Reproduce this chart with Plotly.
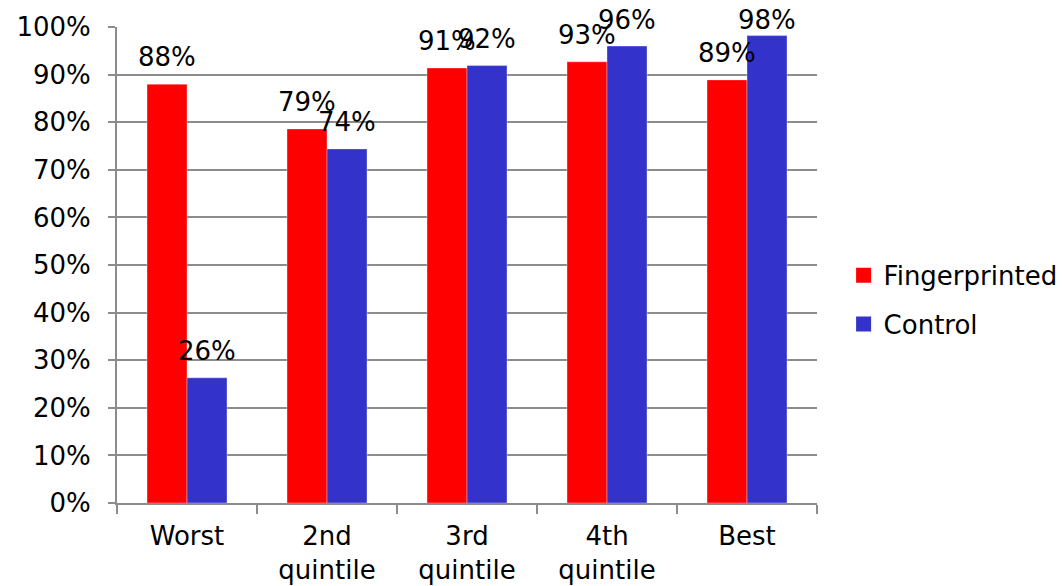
import plotly.graph_objects as go

# Quintile groups and share of each group (fraction of 1)
categories = ["Worst", "2nd<br>quintile", "3rd<br>quintile", "4th<br>quintile", "Best"]
fingerprinted = [0.880, 0.786, 0.914, 0.927, 0.889]
control = [0.263, 0.744, 0.919, 0.960, 0.982]

series = [
    ("Fingerprinted", fingerprinted, "#FF0000", -20),
    ("Control", control, "#3333CC", 20),
]

FONT = "DejaVu Sans, Verdana, sans-serif"
GRID = "#8c8c8c"

# plot-area geometry in pixels
MARGIN_T, MARGIN_B, MARGIN_L, MARGIN_R = 27, 83, 117, 245
HEIGHT = 586
PLOT_H = HEIGHT - MARGIN_T - MARGIN_B
LABEL_LIFT = 27      # label centre above bar top
LABEL_MIN_Y = 20     # keep label centres inside the chart

fig = go.Figure()
annotations = []
for name, vals, color, dx in series:
    fig.add_trace(go.Bar(
        x=categories, y=vals, name=name,
        marker=dict(color=color, line=dict(color="rgba(255,255,255,0.35)", width=1)),
        legendgroup=name, showlegend=False,
    ))
    # legend entry with a larger square swatch
    fig.add_trace(go.Scatter(
        x=[None], y=[None], name=name, mode="markers",
        marker=dict(symbol="square", size=15, color=color),
        legendgroup=name, showlegend=True, hoverinfo="skip",
    ))
    for cat, v in zip(categories, vals):
        top_px = MARGIN_T + (1 - v) * PLOT_H
        lift = min(LABEL_LIFT, top_px - LABEL_MIN_Y)
        annotations.append(dict(
            x=cat, y=v, xref="x", yref="y", text=f"{v:.0%}",
            showarrow=False, xshift=dx, yshift=lift, yanchor="middle",
            font=dict(family=FONT, size=26, color="#000000"),
        ))

fig.update_layout(
    width=1062, height=HEIGHT,
    margin=dict(l=MARGIN_L, r=MARGIN_R, t=MARGIN_T, b=MARGIN_B, autoexpand=False),
    paper_bgcolor="white", plot_bgcolor="white",
    barmode="group", bargap=0.4286, bargroupgap=0,
    font=dict(family=FONT, size=26, color="#000000"),
    annotations=annotations,
    legend=dict(
        x=1.038, y=0.427, xanchor="left", yanchor="middle",
        font=dict(family=FONT, size=26, color="#000000"),
        traceorder="grouped", tracegroupgap=12, itemsizing="trace",
        bgcolor="rgba(0,0,0,0)",
    ),
    showlegend=True,
)
fig.update_xaxes(
    type="category", showline=True, linecolor=GRID, linewidth=2,
    ticks="outside", tickson="boundaries", ticklen=9, tickcolor=GRID, tickwidth=2,
    showgrid=False, tickfont=dict(family=FONT, size=26, color="#000000"),
    ticklabelstandoff=9,
)
fig.update_yaxes(
    range=[0, 1.0001], dtick=0.1, tickformat=".0%",
    showline=True, linecolor=GRID, linewidth=2,
    ticks="outside", ticklen=7, tickcolor=GRID, tickwidth=2,
    showgrid=True, gridcolor=GRID, gridwidth=2, zeroline=False,
    tickfont=dict(family=FONT, size=26, color="#000000"),
    ticklabelstandoff=12,
)

fig.write_html("out.html")
